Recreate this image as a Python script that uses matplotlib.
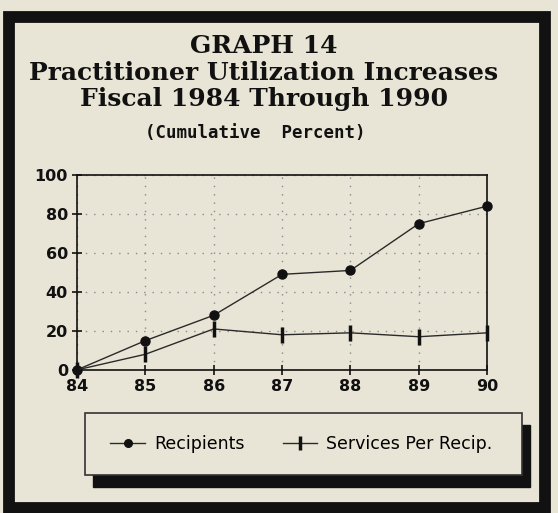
#!/usr/bin/env python3
"""Graph 14: practitioner utilization, cumulative percent, FY 1984-1990."""

import matplotlib
matplotlib.use('Agg')
import matplotlib.pyplot as plt
from matplotlib.lines import Line2D
from matplotlib.patches import Rectangle

years = [84, 85, 86, 87, 88, 89, 90]
recipients = [0, 15, 28, 49, 51, 75, 84]
services_per_recip = [0, 8, 21, 18, 19, 17, 19]
y_ticks = [0, 20, 40, 60, 80, 100]

BG = '#e9e5d6'
INK = '#111111'

fig = plt.figure(figsize=(5.58, 5.13), dpi=100, facecolor=BG)

# outer frame
fig.patches.append(Rectangle((0.017, 0.0107), 0.9597, 0.957, transform=fig.transFigure,
                             fill=False, edgecolor=INK, linewidth=8.5, zorder=0))

# titles
title_kw = dict(ha='center', va='center', family='DejaVu Serif', fontweight='bold',
                fontsize=18, color=INK)
fig.text(0.472, 0.910, 'GRAPH 14', **title_kw)
fig.text(0.472, 0.858, 'Practitioner Utilization Increases', **title_kw)
fig.text(0.474, 0.807, 'Fiscal 1984 Through 1990', **title_kw)
fig.text(0.458, 0.741, '(Cumulative  Percent)', ha='center', va='center',
         family='DejaVu Sans Mono', fontweight='bold', fontsize=12.5, color=INK)

ax = fig.add_axes([0.138, 0.279, 0.735, 0.380])
ax.set_facecolor(BG)
ax.plot(years, recipients, color='#2a2a2a', lw=1.0, marker='o', markersize=6.5,
        markerfacecolor=INK, markeredgecolor=INK, clip_on=False)
ax.plot(years, services_per_recip, color='#2a2a2a', lw=1.0, marker='|', markersize=11,
        markeredgewidth=2.5, markeredgecolor=INK, clip_on=False)
ax.set_xlim(84, 90)
ax.set_ylim(0, 100)
ax.set_xticks(years)
ax.set_yticks(y_ticks)
ax.grid(True, color='#888888', linestyle=(0, (1, 5)), linewidth=1.0)
for side in ax.spines.values():
    side.set_color(INK)
    side.set_linewidth(1.2)
ax.tick_params(direction='inout', length=7, width=1.2, colors=INK, labelsize=11.5, pad=3)
for lab in ax.get_xticklabels() + ax.get_yticklabels():
    lab.set_fontweight('bold')

# legend box with drop shadow
fig.patches.append(Rectangle((0.167, 0.051), 0.783, 0.121, transform=fig.transFigure,
                             facecolor=INK, edgecolor=INK, zorder=1))
fig.patches.append(Rectangle((0.152, 0.074), 0.783, 0.121, transform=fig.transFigure,
                             facecolor=BG, edgecolor='#333333', linewidth=1.2, zorder=2))
handles = [
    Line2D([], [], color='#2a2a2a', lw=1.0, marker='o', markersize=5.5, markerfacecolor=INK,
           markeredgecolor=INK),
    Line2D([], [], color='#2a2a2a', lw=1.0, marker='|', markersize=10, markeredgewidth=2.5,
           markeredgecolor=INK),
]
leg = fig.legend(handles, ['Recipients', 'Services Per Recip.'], loc='center',
                 bbox_to_anchor=(0.54, 0.134), ncol=2, frameon=False, fontsize=12.5,
                 handlelength=2.0, columnspacing=2.2, handletextpad=0.5)
leg.set_zorder(3)

fig.savefig('out.png', dpi=100, facecolor=BG)
